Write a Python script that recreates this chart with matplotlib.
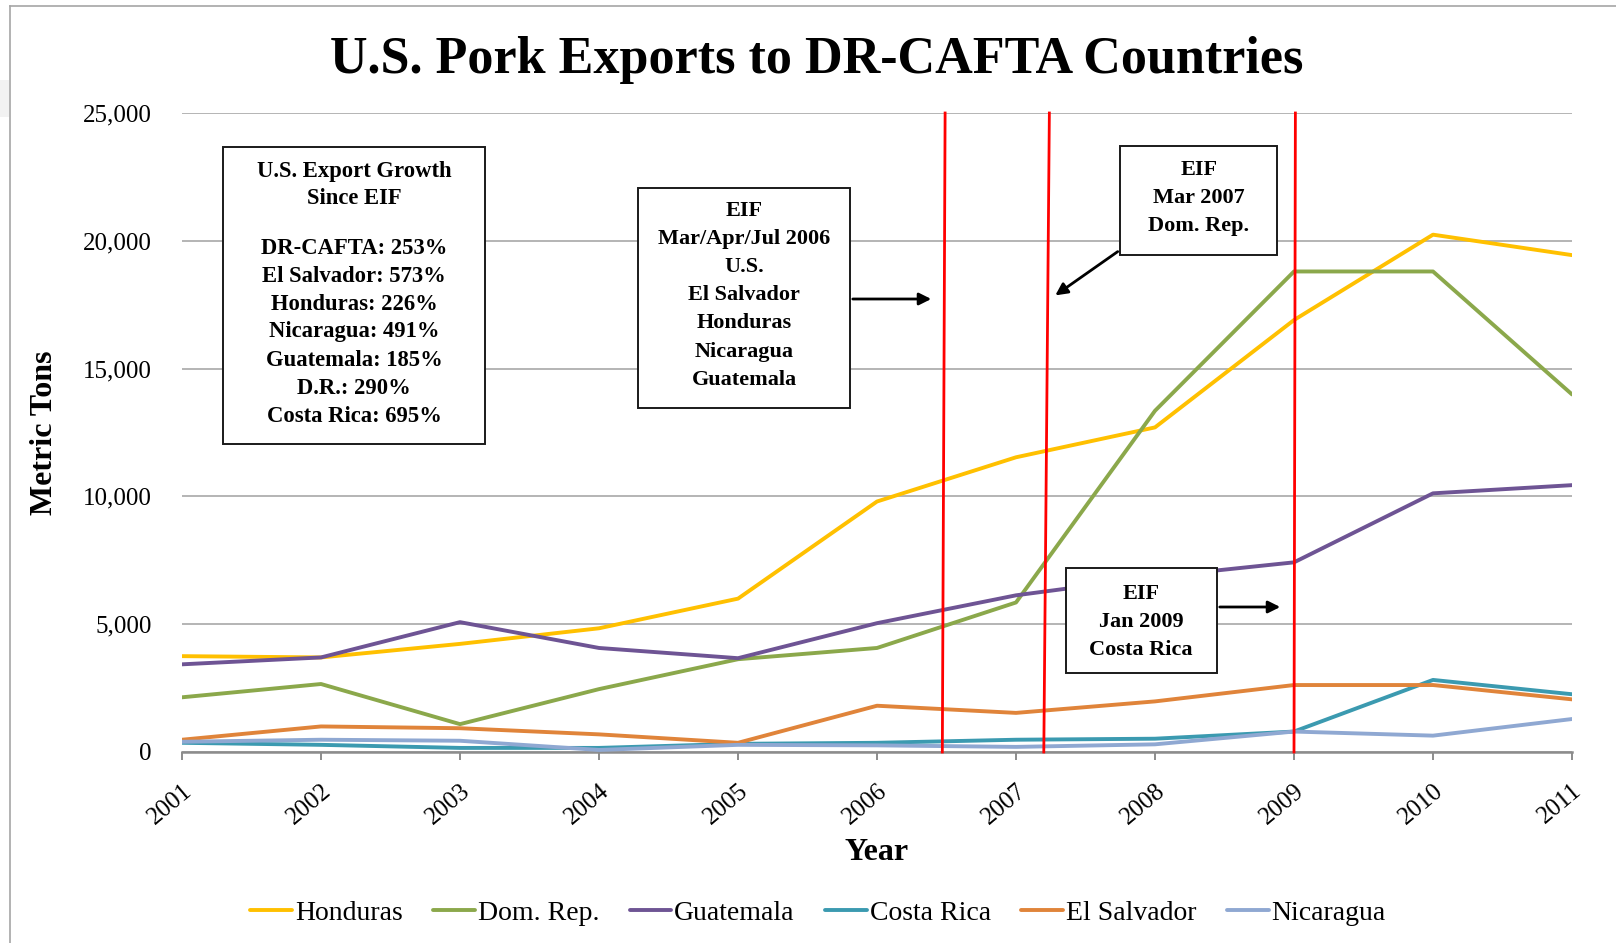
import matplotlib
matplotlib.use("Agg")
import matplotlib.pyplot as plt
from matplotlib.patches import Rectangle, FancyArrowPatch
from matplotlib.lines import Line2D
from matplotlib.ticker import FuncFormatter

plt.rcParams['font.family'] = ['Liberation Serif', 'DejaVu Serif']

years = list(range(2001, 2012))
honduras = [3750, 3700, 4230, 4840, 6000, 9800, 11530, 12700, 16900, 20240, 19440]
dom_rep = [2140, 2660, 1090, 2460, 3630, 4070, 5850, 13350, 18800, 18800, 13990]
guatemala = [3430, 3700, 5080, 4070, 3670, 5040, 6130, 6850, 7420, 10120, 10440]
costa_rica = [360, 280, 160, 160, 320, 360, 480, 520, 800, 2820, 2260]
el_salvador = [480, 1000, 930, 690, 360, 1810, 1530, 1980, 2620, 2620, 2060]
nicaragua = [400, 480, 440, 80, 280, 260, 200, 300, 800, 640, 1290]

series = [
    ("Honduras", honduras, "#FFC000"),
    ("Dom. Rep.", dom_rep, "#8BA84B"),
    ("Guatemala", guatemala, "#6E5494"),
    ("Costa Rica", costa_rica, "#3B9AB0"),
    ("El Salvador", el_salvador, "#E0843A"),
    ("Nicaragua", nicaragua, "#8FA8D2"),
]

# entry-into-force markers (top x, bottom x) - drawn slightly skewed
eif_lines = [(2006.49, 2006.47), (2007.24, 2007.20), (2009.01, 2009.0)]

growth_text = ["U.S. Export Growth", "Since EIF", "",
               "DR-CAFTA: 253%", "El Salvador: 573%", "Honduras: 226%",
               "Nicaragua: 491%", "Guatemala: 185%", "D.R.: 290%",
               "Costa Rica: 695%"]
box_2006 = ["EIF", "Mar/Apr/Jul 2006", "U.S.", "El Salvador", "Honduras",
            "Nicaragua", "Guatemala"]
box_2007 = ["EIF", "Mar 2007", "Dom. Rep."]
box_2009 = ["EIF", "Jan 2009", "Costa Rica"]

W, H = 1616, 943
fig = plt.figure(figsize=(W / 100, H / 100), dpi=100)
ax = fig.add_axes([182 / W, 1 - 752 / H, (1572 - 182) / W, (752 - 113) / H])


def fx(x):
    return x / W


def fy(y):
    return 1 - y / H


# slide frame
fig.add_artist(Line2D([fx(9.5), fx(9.5)], [fy(6), 0], color="#A6A6A6", lw=1.2))
fig.add_artist(Line2D([fx(9.5), 1], [fy(6), fy(6)], color="#A6A6A6", lw=1.2))
fig.add_artist(Rectangle((0, fy(117)), fx(8.5), fy(80) - fy(117),
                         facecolor="#F2F2F2", edgecolor="none"))

for name, vals, color in series:
    ax.plot(years, vals, color=color, lw=2.8, label=name, zorder=3,
            solid_capstyle="round")

for xt, xb in eif_lines:
    ax.plot([xt, xb], [25000, 0], color="#FF0000", lw=2.0, zorder=4,
            clip_on=False)

ax.set_xlim(2001, 2011)
ax.set_ylim(0, 25000)
ax.set_yticks(range(0, 25001, 5000))
ax.yaxis.set_major_formatter(FuncFormatter(lambda v, p: f"{int(v):,}"))
ax.set_xticks(years)
ax.set_xticklabels([str(y) for y in years], rotation=40, ha="right",
                   rotation_mode="anchor")
ax.grid(axis="y", color="#A0A0A0", lw=1.1)
ax.set_axisbelow(True)
for s in ["top", "right", "left"]:
    ax.spines[s].set_visible(False)
ax.spines["bottom"].set_color("#8C8C8C")
ax.spines["bottom"].set_linewidth(1.8)
ax.tick_params(axis="y", length=0, pad=22, labelsize=18)
ax.tick_params(axis="x", length=6, width=1.4, color="#8C8C8C", pad=14,
               labelsize=18)

ax.set_xlabel("Year", fontsize=23, fontweight="bold", labelpad=7)
ax.set_ylabel("Metric Tons", fontsize=23, fontweight="bold", labelpad=17)

fig.text(fx(817), fy(60), "U.S. Pork Exports to DR-CAFTA Countries",
         ha="center", va="center", fontsize=37.5, fontweight="bold")

ax.legend(loc="center", bbox_to_anchor=(fx(818), fy(913)),
          bbox_transform=fig.transFigure, ncol=6, frameon=False,
          fontsize=20, handlelength=1.5, handletextpad=0.1,
          columnspacing=1.1)


def text_box(x0, y0, x1, y1, lines, cx, ytop, step, size=16):
    fig.add_artist(Rectangle((fx(x0), fy(y1)), fx(x1) - fx(x0), fy(y0) - fy(y1),
                             facecolor="white", edgecolor="#1A1A1A", lw=1.4,
                             zorder=5))
    y = ytop
    for line in lines:
        if line == "":
            y += step * 0.75
            continue
        fig.text(fx(cx), fy(y), line, ha="center", va="center",
                 fontsize=size, fontweight="bold", zorder=6)
        y += step


def arrow(x0, y0, x1, y1):
    fig.add_artist(FancyArrowPatch((fx(x0), fy(y0)), (fx(x1), fy(y1)),
                                   transform=fig.transFigure,
                                   arrowstyle="-|>", mutation_scale=18,
                                   color="black", lw=2.0, zorder=6))


text_box(223, 147, 485, 444, growth_text, 354, 171, 28.0, size=16.3)
text_box(638, 188, 850, 408, box_2006, 744, 211, 28.1)
text_box(1120, 146, 1277, 255, box_2007, 1199, 170, 28.1)
text_box(1066, 568, 1217, 673, box_2009, 1141, 594, 28.1)

arrow(850, 299, 934, 299)
arrow(1120, 250, 1053, 297)
arrow(1217, 607, 1283, 607)

fig.savefig("out.png", dpi=100)
